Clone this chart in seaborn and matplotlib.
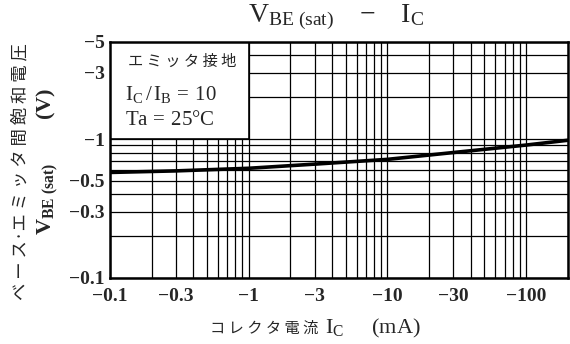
import matplotlib
matplotlib.use("Agg")
import matplotlib.pyplot as plt
from matplotlib.patches import Rectangle
from matplotlib.ticker import FixedLocator, FixedFormatter, NullFormatter
import seaborn as sns
import pandas as pd

# data (magnitudes; the part is PNP so both axes are labelled negative)
ic_ma = [0.1, 0.3, 1, 3, 10, 30, 100, 200]
vbe_sat = [0.575, 0.59, 0.616, 0.66, 0.714, 0.80, 0.905, 0.98]

x_ticks = [0.1, 0.3, 1, 3, 10, 30, 100]
x_labels = ["−0.1", "−0.3", "−1", "−3", "−10", "−30", "−100"]
y_ticks = [0.1, 0.3, 0.5, 1, 3, 5]
y_labels = ["−0.1", "−0.3", "−0.5", "−1", "−3", "−5"]

sns.set_style("white")
plt.rcParams['font.family'] = ['Liberation Serif', 'Noto Sans CJK JP']
plt.rcParams['mathtext.fontset'] = 'custom'
plt.rcParams['mathtext.rm'] = 'Liberation Serif'
plt.rcParams['mathtext.it'] = 'Liberation Serif'
plt.rcParams['mathtext.bf'] = 'Liberation Serif:bold'

df = pd.DataFrame({"ic": ic_ma, "vbe": vbe_sat})

fig = plt.figure(figsize=(5.7, 3.44), dpi=100)
ax = fig.add_axes([0.193, 0.192, 0.803, 0.686])

ax.set_xscale("log")
ax.set_yscale("log")
sns.lineplot(data=df, x="ic", y="vbe", ax=ax, color="black", linewidth=2.6, zorder=3)
ax.set_xlim(0.1, 200)
ax.set_ylim(0.1, 5)
ax.set_xlabel("")
ax.set_ylabel("")

# full log grid
ax.grid(True, which="both", color="black", linewidth=0.9)
ax.set_axisbelow(True)

ax.xaxis.set_major_locator(FixedLocator(x_ticks))
ax.xaxis.set_major_formatter(FixedFormatter(x_labels))
ax.xaxis.set_minor_locator(FixedLocator([m * 10.0 ** e for e in range(-1, 3) for m in range(1, 10)]))
ax.xaxis.set_minor_formatter(NullFormatter())
ax.yaxis.set_major_locator(FixedLocator(y_ticks))
ax.yaxis.set_major_formatter(FixedFormatter(y_labels))
ax.yaxis.set_minor_locator(FixedLocator([m * 10.0 ** e for e in range(-1, 1) for m in range(1, 10)]))
ax.yaxis.set_minor_formatter(NullFormatter())
ax.tick_params(which="both", length=0, labelsize=14)
ax.tick_params(axis="x", pad=7)
ax.tick_params(axis="y", pad=4)
for lab in ax.get_xticklabels() + ax.get_yticklabels():
    lab.set_fontweight("bold")

for s in ax.spines.values():
    s.set_linewidth(1.8)
    s.set_color("black")

# condition box in the upper-left decade
ax.add_patch(Rectangle((0.1, 1), 0.9, 4, facecolor="white", edgecolor="black",
                       linewidth=1.2, zorder=2))
ax.text(0.135, 3.6, "エ ミ ッ タ 接 地", fontsize=11, family=['Noto Sans CJK JP'], va="center", zorder=4)
ax.text(0.128, 2.1, r"$\mathrm{I_C\,/\,I_B\,=\,10}$", fontsize=15, va="center", zorder=4)
ax.text(0.128, 1.35, r"$\mathrm{Ta\,=\,25°C}$", fontsize=15, va="center", zorder=4)

fig.text(0.59, 0.95, r"$\mathrm{V_{BE\ (sat)}\ \ \ -\ \ \ I_C}$", fontsize=20, ha="center", va="center")
fig.text(0.368, 0.045, "コ レ ク タ 電 流", fontsize=11, family=['Noto Sans CJK JP'],
         ha="left", va="center")
fig.text(0.57, 0.045, r"$\mathrm{I_C}$     (mA)", fontsize=16, ha="left", va="center")
fig.text(0.035, 0.50, "ベ ー ス·エ ミ ッ タ 間 飽 和 電 圧", fontsize=12.5,
         family=['Noto Sans CJK JP', 'DejaVu Sans'], rotation=90, ha="center", va="center")
fig.text(0.082, 0.53, r"$\mathbf{V_{BE\ (sat)}}$" + "        (V)", fontsize=16, fontweight="bold",
         rotation=90, ha="center", va="center")

fig.savefig("out.png", dpi=100)
